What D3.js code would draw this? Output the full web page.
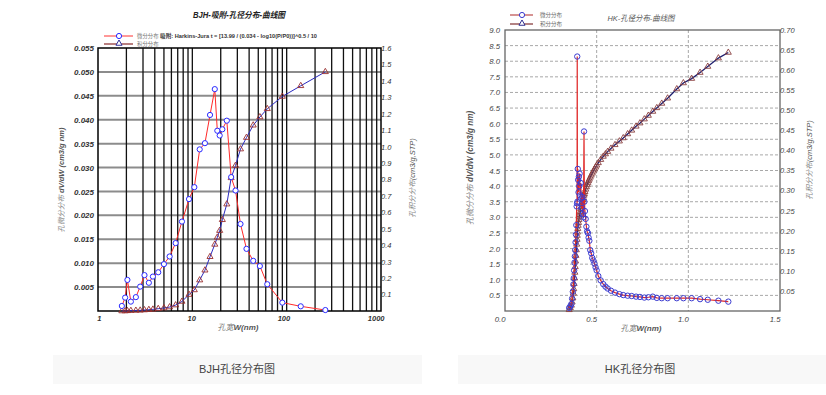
<!DOCTYPE html>
<html><head><meta charset="utf-8">
<script src="https://cdn.jsdelivr.net/npm/d3@7"></script>
<style>
body{margin:0;background:#fff}
svg{display:block}
text{font-family:"Liberation Sans",Arial,"Noto Sans CJK SC",sans-serif}
</style>
</head><body>
<svg id="c" width="826" height="395"></svg>
<script>
// ---------------- DATA ----------------
// BJH (left chart): pore width (nm), differential dV/dW, cumulative volume
const bjhX = [1.79, 1.94, 2.05, 2.23, 2.52, 2.80, 3.11, 3.46, 3.82, 4.35, 5.0, 5.74, 6.65, 7.76, 9.22, 10.5, 11.97, 13.6, 15.4, 17.3, 18.4, 19.5, 20.8, 23.2, 25.8, 28.7, 32.4, 37.5, 44.2, 52, 62.3, 90, 141, 257];
const bjhDiff = [0.00105, 0.0028, 0.0065, 0.00196, 0.0029, 0.0051, 0.0075, 0.0059, 0.0072, 0.0081, 0.0098, 0.0114, 0.0142, 0.0187, 0.0234, 0.0259, 0.0338, 0.0351, 0.0410, 0.0464, 0.0377, 0.0367, 0.0380, 0.0398, 0.0280, 0.0252, 0.0182, 0.0130, 0.0105, 0.0094, 0.0056, 0.00175, 0.00098, 0.0002];
const bjhCum = [0, 0, 0.001, 0.002, 0.003, 0.004, 0.006, 0.008, 0.010, 0.014, 0.018, 0.024, 0.036, 0.058, 0.100, 0.128, 0.188, 0.248, 0.330, 0.405, 0.448, 0.489, 0.555, 0.650, 0.810, 0.885, 0.985, 1.055, 1.130, 1.180, 1.230, 1.305, 1.370, 1.455];
const bjhXTicks = [1, 10, 100, 1000];
const bjhYTicks = [0.005, 0.010, 0.015, 0.020, 0.025, 0.030, 0.035, 0.040, 0.045, 0.050, 0.055];
const bjhY2Ticks = [0.1, 0.2, 0.3, 0.4, 0.5, 0.6, 0.7, 0.8, 0.9, 1.0, 1.1, 1.2, 1.3, 1.4, 1.5, 1.6];

// HK (right chart)
const hkX = [0.350,0.356,0.362,0.366,0.370,0.373,0.375,0.377,0.379,0.381,0.383,0.385,0.387,0.389,0.391,0.393,0.394,0.395,0.397,0.399,0.401,0.403,0.405,0.407,0.410,0.413,0.416,0.419,0.422,0.425,0.428,0.431,0.433,0.436,0.440,0.444,0.448,0.452,0.456,0.460,0.465,0.470,0.476,0.482,0.488,0.494,0.500,0.509,0.522,0.536,0.548,0.560,0.578,0.600,0.624,0.645,0.669,0.691,0.715,0.736,0.760,0.782,0.806,0.828,0.855,0.887,0.937,0.973,1.018,1.064,1.106,1.164,1.218];
const hkDiff = [0.10,0.15,0.22,0.40,0.62,0.85,1.05,1.30,1.55,1.75,1.95,2.20,2.45,2.75,3.35,3.45,8.15,3.50,4.55,4.20,3.80,4.30,4.00,4.40,3.70,4.10,3.60,3.30,3.65,3.10,3.00,5.75,3.50,3.20,2.95,2.70,2.55,2.50,2.35,2.25,1.95,1.85,1.70,1.62,1.52,1.40,1.30,1.12,0.98,0.86,0.78,0.72,0.65,0.59,0.54,0.51,0.49,0.48,0.46,0.45,0.43,0.44,0.46,0.42,0.41,0.41,0.41,0.41,0.41,0.38,0.36,0.33,0.30];
const hkCum = [0.003,0.008,0.014,0.022,0.032,0.044,0.055,0.068,0.082,0.096,0.110,0.124,0.138,0.152,0.166,0.178,0.188,0.196,0.205,0.213,0.220,0.227,0.234,0.240,0.247,0.254,0.260,0.266,0.272,0.277,0.282,0.288,0.292,0.297,0.303,0.309,0.314,0.319,0.324,0.328,0.333,0.338,0.343,0.348,0.353,0.358,0.363,0.369,0.377,0.385,0.391,0.397,0.405,0.414,0.423,0.431,0.441,0.450,0.460,0.468,0.478,0.487,0.497,0.506,0.517,0.530,0.553,0.568,0.579,0.594,0.609,0.630,0.644];
const hkXTicks = [0, 0.5, 1.0, 1.5];
const hkYTicks = [0.5,1.0,1.5,2.0,2.5,3.0,3.5,4.0,4.5,5.0,5.5,6.0,6.5,7.0,7.5,8.0,8.5,9.0];
const hkY2Ticks = [0.05,0.10,0.15,0.20,0.25,0.30,0.35,0.40,0.45,0.50,0.55,0.60,0.65,0.70];

const captions = ["BJH孔径分布图", "HK孔径分布图"];

// ---------------- DRAW ----------------
const svg = d3.select("#c");
const tri = d3.symbol().type(d3.symbolTriangle).size(16);

function styleAxis(g, size, weight, color){
  g.select(".domain").remove();
  g.attr("font-family", null).attr("font-size", null);
  g.selectAll("text").attr("font-size", size).attr("font-style","italic")
   .attr("font-weight", weight).attr("fill", color)
   .attr("font-family", '"Liberation Sans",Arial,sans-serif');
}

// ===== LEFT : BJH =====
{
  const X0=98, X1=381, Y0=48, Y1=311;
  const x = d3.scaleLog().domain([1,1000]).range([X0,X1]);
  const y = d3.scaleLinear().domain([0,0.055]).range([Y1,Y0]);
  const y2 = d3.scaleLinear().domain([0,1.6]).range([Y1,Y0]);
  const g = svg.append("g");

  // horizontal grid (gray, thick)
  g.append("g").selectAll("line").data(bjhYTicks.slice(0,-1)).join("line")
    .attr("x1",X0).attr("x2",X1).attr("y1",d=>y(d)).attr("y2",d=>y(d))
    .attr("stroke","#8c8c8c").attr("stroke-width",2);
  // vertical log grid (black)
  g.append("g").selectAll("line").data(x.ticks().filter(d=>d>1&&d<1000)).join("line")
    .attr("x1",d=>x(d)).attr("x2",d=>x(d)).attr("y1",Y0).attr("y2",Y1)
    .attr("stroke","#111").attr("stroke-width",1.3);
  // frame
  g.append("rect").attr("x",X0).attr("y",Y0).attr("width",X1-X0).attr("height",Y1-Y0)
    .attr("fill","none").attr("stroke","#000").attr("stroke-width",1.5);

  // axes
  g.append("g").attr("transform",`translate(${X0},0)`)
    .call(d3.axisLeft(y).tickValues(bjhYTicks).tickSize(0).tickPadding(4).tickFormat(d3.format(".3f")))
    .call(a=>styleAxis(a,8,"bold","#333"));
  g.append("g").attr("transform",`translate(${X1},0)`)
    .call(d3.axisRight(y2).tickValues(bjhY2Ticks).tickSize(0).tickPadding(0).tickFormat(d3.format(".1f")))
    .call(a=>styleAxis(a,7.5,"normal","#333"));
  g.append("g").attr("transform",`translate(0,${Y1})`)
    .call(d3.axisBottom(x).tickValues(bjhXTicks).tickSize(0).tickPadding(5).tickFormat(d3.format("d")))
    .call(a=>{styleAxis(a,7.5,"bold","#333"); a.selectAll("text").attr("text-anchor","end").attr("dx",3);});

  // cumulative (blue line, brown triangles)
  const cum = bjhX.map((v,i)=>({x:v,y:bjhCum[i]}));
  g.append("path").datum(cum).attr("fill","none").attr("stroke","#2b2bc0").attr("stroke-width",1)
    .attr("d",d3.line().x(d=>x(d.x)).y(d=>y2(d.y)));
  g.append("g").selectAll("path").data(cum).join("path")
    .attr("d",tri).attr("transform",d=>`translate(${x(d.x)},${y2(d.y)})`)
    .attr("fill","none").attr("stroke","#9a3030").attr("stroke-width",0.9);

  // differential (red line, blue circles)
  const dif = bjhX.map((v,i)=>({x:v,y:bjhDiff[i]}));
  g.append("path").datum(dif).attr("fill","none").attr("stroke","#ff2a2a").attr("stroke-width",1)
    .attr("d",d3.line().x(d=>x(d.x)).y(d=>y(d.y)));
  g.append("g").selectAll("circle").data(dif).join("circle")
    .attr("cx",d=>x(d.x)).attr("cy",d=>y(d.y)).attr("r",2.6)
    .attr("fill","#fff").attr("stroke","#2a2aff").attr("stroke-width",1);

  // title
  g.append("text").attr("x",239).attr("y",18).attr("text-anchor","middle")
    .attr("font-size",8.5).attr("font-weight","bold").attr("font-style","italic").attr("fill","#222")
    .attr("textLength",92).attr("lengthAdjust","spacingAndGlyphs")
    .text("BJH-吸附-孔径分布-曲线图");

  // legend
  g.append("line").attr("x1",104).attr("x2",133).attr("y1",36).attr("y2",36).attr("stroke","#ff3030").attr("stroke-width",1);
  g.append("circle").attr("cx",119).attr("cy",36).attr("r",2.6).attr("fill","#fff").attr("stroke","#2a2aff");
  g.append("text").attr("x",137).attr("y",38).attr("font-size",5.4).attr("fill","#777").text("微分分布");
  g.append("text").attr("x",160).attr("y",38).attr("font-size",5.6).attr("font-weight","bold").attr("fill","#333")
    .attr("textLength",157).attr("lengthAdjust","spacingAndGlyphs")
    .text("吸附: Harkins-Jura t = [13.99 / (0.034 - log10(P/P0))]^0.5 / 10");
  g.append("line").attr("x1",104).attr("x2",133).attr("y1",44).attr("y2",44).attr("stroke","#a86060").attr("stroke-width",1.6);
  g.append("path").attr("d",tri).attr("transform","translate(119,43.5)").attr("fill","#fff").attr("stroke","#30309a");
  g.append("text").attr("x",137).attr("y",46).attr("font-size",5.4).attr("fill","#777").text("积分分布");

  // axis titles
  const yt = g.append("text").attr("transform","translate(64,180) rotate(-90)").attr("text-anchor","middle")
    .attr("font-size",7.5).attr("font-style","italic");
  yt.append("tspan").attr("fill","#888").text("孔微分分布 ");
  yt.append("tspan").attr("fill","#555").attr("font-weight","bold").text("dV/dW (cm3/g nm)");
  const yt2 = g.append("text").attr("transform","translate(415,178) rotate(-90)").attr("text-anchor","middle")
    .attr("font-size",7.5).attr("font-style","italic");
  yt2.append("tspan").attr("fill","#888").text("孔积分分布");
  yt2.append("tspan").attr("fill","#555").text("(cm3/g,STP)");
  const xt = g.append("text").attr("x",238).attr("y",330).attr("text-anchor","middle")
    .attr("font-size",8).attr("font-style","italic");
  xt.append("tspan").attr("fill","#777").text("孔宽");
  xt.append("tspan").attr("fill","#555").attr("font-weight","bold").text("W(nm)");
}

// ===== RIGHT : HK =====
{
  const X0=505, X1=780, Y0=30, Y1=311;
  const x = d3.scaleLinear().domain([0,1.5]).range([X0,X1]);
  const y = d3.scaleLinear().domain([0,9]).range([Y1,Y0]);
  const y2 = d3.scaleLinear().domain([0,0.7]).range([Y1,Y0]);
  const g = svg.append("g");

  // dashed grid
  g.append("g").selectAll("line").data(hkYTicks.slice(0,-1)).join("line")
    .attr("x1",X0).attr("x2",X1).attr("y1",d=>y(d)).attr("y2",d=>y(d))
    .attr("stroke","#a8a8a8").attr("stroke-width",1).attr("stroke-dasharray","3,2");
  g.append("g").selectAll("line").data(hkXTicks.slice(1,-1)).join("line")
    .attr("x1",d=>x(d)).attr("x2",d=>x(d)).attr("y1",Y0).attr("y2",Y1)
    .attr("stroke","#a8a8a8").attr("stroke-width",1).attr("stroke-dasharray","3,2");
  // frame
  g.append("rect").attr("x",X0).attr("y",Y0).attr("width",X1-X0).attr("height",Y1-Y0)
    .attr("fill","none").attr("stroke","#666").attr("stroke-width",1.3);

  // axes
  g.append("g").attr("transform",`translate(${X0},0)`)
    .call(d3.axisLeft(y).tickValues(hkYTicks).tickSize(0).tickPadding(5).tickFormat(d3.format(".1f")))
    .call(a=>styleAxis(a,7.8,"normal","#444"));
  g.append("g").attr("transform",`translate(${X1},0)`)
    .call(d3.axisRight(y2).tickValues(hkY2Ticks).tickSize(0).tickPadding(0).tickFormat(d3.format(".2f")))
    .call(a=>styleAxis(a,7.5,"normal","#444"));
  g.append("g").attr("transform",`translate(0,${Y1})`)
    .call(d3.axisBottom(x).tickValues(hkXTicks).tickSize(0).tickPadding(5).tickFormat(d3.format(".1f")))
    .call(a=>{styleAxis(a,7.8,"normal","#444"); a.selectAll("text").attr("text-anchor","end");});

  // cumulative (navy line, brown triangles)
  const cum = hkX.map((v,i)=>({x:v,y:hkCum[i]}));
  g.append("path").datum(cum).attr("fill","none").attr("stroke","#1e1e6e").attr("stroke-width",1.3)
    .attr("d",d3.line().x(d=>x(d.x)).y(d=>y2(d.y)));
  g.append("g").selectAll("path").data(cum).join("path")
    .attr("d",tri).attr("transform",d=>`translate(${x(d.x)},${y2(d.y)})`)
    .attr("fill","none").attr("stroke","#8a4040").attr("stroke-width",0.9);

  // differential (red line, blue circles)
  const dif = hkX.map((v,i)=>({x:v,y:hkDiff[i]}));
  g.append("path").datum(dif).attr("fill","none").attr("stroke","#e02828").attr("stroke-width",1.2)
    .attr("d",d3.line().x(d=>x(d.x)).y(d=>y(d.y)));
  g.append("g").selectAll("circle").data(dif).join("circle")
    .attr("cx",d=>x(d.x)).attr("cy",d=>y(d.y)).attr("r",2.7)
    .attr("fill","none").attr("stroke","#3c3cd0").attr("stroke-width",1);

  // title
  g.append("text").attr("x",641).attr("y",21).attr("text-anchor","middle")
    .attr("font-size",8).attr("font-style","italic").attr("fill","#555")
    .attr("textLength",67).attr("lengthAdjust","spacingAndGlyphs")
    .text("HK-孔径分布-曲线图");

  // legend
  g.append("line").attr("x1",510).attr("x2",533).attr("y1",15).attr("y2",15).attr("stroke","#c05858").attr("stroke-width",1.3);
  g.append("circle").attr("cx",522).attr("cy",15).attr("r",2.6).attr("fill","#fff").attr("stroke","#3c3cd0");
  g.append("text").attr("x",540).attr("y",17).attr("font-size",5.5).attr("fill","#666").text("微分分布");
  g.append("line").attr("x1",510).attr("x2",533).attr("y1",24).attr("y2",24).attr("stroke","#8a4040").attr("stroke-width",1.3);
  g.append("path").attr("d",tri).attr("transform","translate(522,23.5)").attr("fill","#fff").attr("stroke","#303090");
  g.append("text").attr("x",540).attr("y",26).attr("font-size",5.5).attr("fill","#666").text("积分分布");

  // axis titles
  const yt = g.append("text").attr("transform","translate(473,168) rotate(-90)").attr("text-anchor","middle")
    .attr("font-size",8.2).attr("font-style","italic");
  yt.append("tspan").attr("fill","#888").text("孔微分分布 ");
  yt.append("tspan").attr("fill","#555").attr("font-weight","bold").text("dV/dW (cm3/g nm)");
  const yt2 = g.append("text").attr("transform","translate(812,160) rotate(-90)").attr("text-anchor","middle")
    .attr("font-size",7.5).attr("font-style","italic");
  yt2.append("tspan").attr("fill","#888").text("孔积分分布");
  yt2.append("tspan").attr("fill","#555").text("(cm3/g,STP)");
  const xt = g.append("text").attr("x",641).attr("y",331).attr("text-anchor","middle")
    .attr("font-size",8).attr("font-style","italic");
  xt.append("tspan").attr("fill","#777").text("孔宽");
  xt.append("tspan").attr("fill","#555").attr("font-weight","bold").text("W(nm)");
}

// ===== CAPTIONS =====
const capBoxes = [{x:53,w:369,cx:237},{x:458,w:368,cx:640}];
svg.append("g").selectAll("rect").data(capBoxes).join("rect")
  .attr("x",d=>d.x).attr("y",355).attr("width",d=>d.w).attr("height",29).attr("fill","#f8f8f8");
svg.append("g").selectAll("text").data(captions).join("text")
  .attr("x",(d,i)=>capBoxes[i].cx).attr("y",373).attr("text-anchor","middle")
  .attr("font-size",11).attr("fill","#444").attr("font-family",'"Noto Sans CJK SC",sans-serif')
  .text(d=>d);
</script>
</body></html>
